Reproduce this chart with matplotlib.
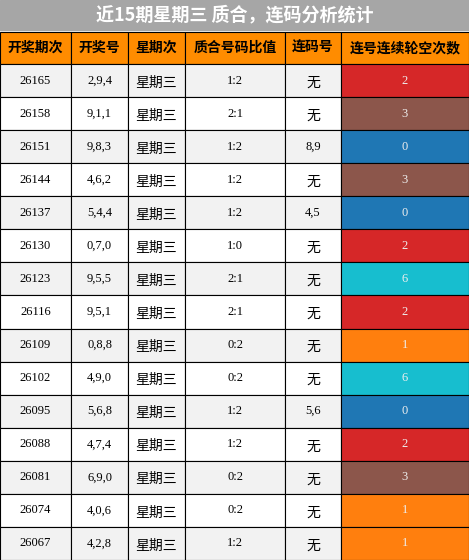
import matplotlib
matplotlib.use("Agg")
import matplotlib.pyplot as plt
from matplotlib.patches import Rectangle

title = "近15期星期三 质合，连码分析统计"
headers = ["开奖期次", "开奖号", "星期次", "质合号码比值", "连码号", "连号连续轮空次数"]
periods = ["26165","26158","26151","26144","26137","26130","26123","26116","26109","26102","26095","26088","26081","26074","26067"]
numbers = ["2,9,4","9,1,1","9,8,3","4,6,2","5,4,4","0,7,0","9,5,5","9,5,1","0,8,8","4,9,0","5,6,8","4,7,4","6,9,0","4,0,6","4,2,8"]
weekday = ["星期三"] * 15
ratios = ["1:2","2:1","1:2","1:2","1:2","1:0","2:1","2:1","0:2","0:2","1:2","1:2","0:2","0:2","1:2"]
consec = ["无","无","8,9","无","4,5","无","无","无","无","无","5,6","无","无","无","无"]
misses = [2,3,0,3,0,2,6,2,1,6,0,2,3,1,1]
miss_colors = {0:"#1f77b4", 1:"#ff7f0e", 2:"#d62728", 3:"#8c564b", 6:"#17becf"}

W, H = 469, 560
cols = [0, 71, 128, 185, 285, 341, 469]
title_h, head_top, head_bot = 30, 32, 64
row_h = (H - head_bot) / len(periods)

fig = plt.figure(figsize=(W/100, H/100), dpi=100)
ax = fig.add_axes([0, 0, 1, 1])
ax.set_xlim(0, W); ax.set_ylim(H, 0); ax.axis("off")

cjk = ["Noto Sans CJK SC", "DejaVu Sans"]
serif = ["Liberation Serif", "Noto Sans CJK SC"]

ax.add_patch(Rectangle((0, 0), W, title_h, color="#a6a6a6"))
ax.text(W/2, title_h/2, title, ha="center", va="center", color="white", fontsize=13, fontweight="bold", family=cjk)

for i, h in enumerate(headers):
    x0, x1 = cols[i], cols[i+1]
    ax.add_patch(Rectangle((x0, head_top), x1-x0, head_bot-head_top, facecolor="#ff8c00", edgecolor="black", lw=0.8))
    ax.text((x0+x1)/2, (head_top+head_bot)/2, h, ha="center", va="center", fontsize=10, fontweight="bold", family=cjk)

for r in range(len(periods)):
    y0 = head_bot + r*row_h
    vals = [periods[r], numbers[r], weekday[r], ratios[r], consec[r], str(misses[r])]
    for c, v in enumerate(vals):
        x0, x1 = cols[c], cols[c+1]
        if c == 5:
            fc = miss_colors[misses[r]]
        else:
            fc = "#f2f2f2" if r % 2 == 0 else "white"
        ax.add_patch(Rectangle((x0, y0), x1-x0, row_h, facecolor=fc, edgecolor="black", lw=0.8))
        is_cjk = any(ord(ch) > 0x2E80 for ch in v)
        ax.text((x0+x1)/2, y0 + row_h/2 + (2 if is_cjk else 0), v, ha="center", va="center",
                fontsize=10 if is_cjk else 9,
                color=("#eeeeee" if c == 5 else "black"),
                family=cjk if is_cjk else serif)

fig.savefig("out.png", dpi=100)
